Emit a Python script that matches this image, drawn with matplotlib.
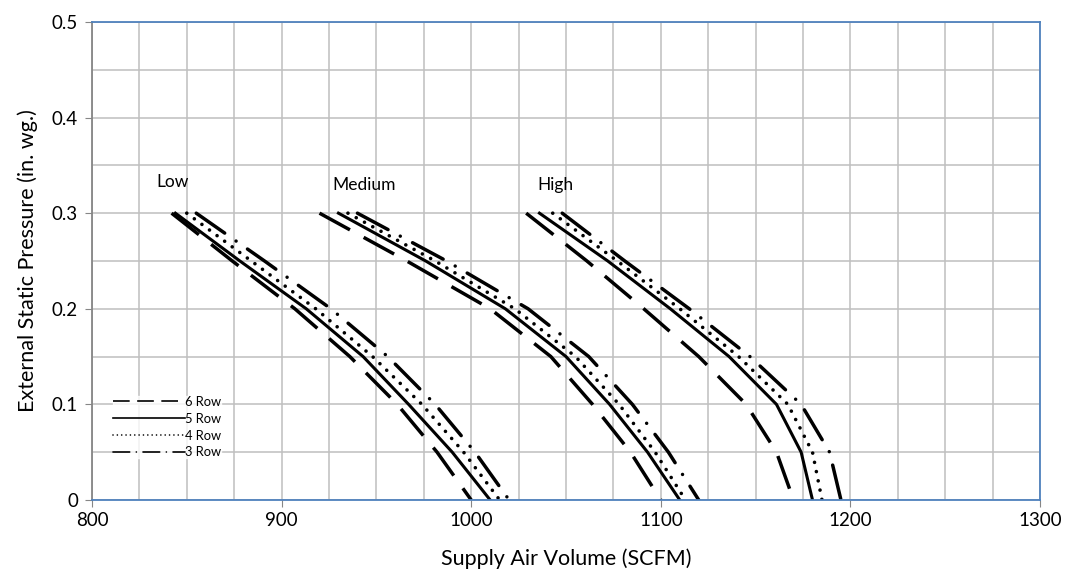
import matplotlib

matplotlib.use("Agg")
import matplotlib.pyplot as plt

# pressure steps shared by every curve (in. wg.)
pressure = [0.30, 0.25, 0.20, 0.15, 0.10, 0.05, 0.00]

# supply air volume (SCFM) at each pressure step, per speed and coil rows
low_6row = [842, 874, 907, 936, 961, 982, 1000]
low_5row = [844, 878, 913, 943, 967, 990, 1010]
low_4row = [850, 884, 918, 948, 974, 996, 1015]
low_3row = [855, 891, 926, 956, 981, 1002, 1020]

medium_6row = [920, 966, 1010, 1042, 1064, 1084, 1100]
medium_5row = [930, 976, 1018, 1050, 1073, 1093, 1110]
medium_4row = [935, 981, 1023, 1055, 1078, 1097, 1113]
medium_3row = [940, 987, 1030, 1062, 1085, 1104, 1120]

high_6row = [1029, 1061, 1091, 1120, 1145, 1161, 1170]
high_5row = [1036, 1072, 1105, 1136, 1161, 1174, 1180]
high_4row = [1043, 1077, 1110, 1141, 1167, 1180, 1185]
high_3row = [1048, 1081, 1115, 1147, 1174, 1189, 1195]

speed_labels = ["Low", "Medium", "High"]
speed_label_pos = [(834, 0.333), (927, 0.329), (1035, 0.329)]
row_labels = ["6 Row", "5 Row", "4 Row", "3 Row"]

plt.rcParams["font.family"] = ["Lato", "DejaVu Sans"]

STYLES = {
    "6 Row": dict(linestyle=(0, (10, 4.5)), linewidth=2.5, dash_capstyle="butt"),
    "5 Row": dict(linestyle="-", linewidth=2.2),
    "4 Row": dict(linestyle=(0, (0.01, 2.6)), linewidth=2.6, dash_capstyle="round"),
    "3 Row": dict(linestyle=(0, (10, 4, 0.01, 4)), linewidth=2.5, dash_capstyle="round"),
}

groups = [
    [low_6row, low_5row, low_4row, low_3row],
    [medium_6row, medium_5row, medium_4row, medium_3row],
    [high_6row, high_5row, high_4row, high_3row],
]

fig = plt.figure(figsize=(10.78, 5.78), dpi=100)
ax = fig.add_axes([0.0853, 0.135, 0.8795, 0.827])

for g, curves in enumerate(groups):
    for label, volume in zip(row_labels, curves):
        ax.plot(volume, pressure, color="black",
                label=label if g == 0 else None, **STYLES[label])

for text, (x, y) in zip(speed_labels, speed_label_pos):
    ax.text(x, y, text, fontsize=12.5, ha="left", va="center")

ax.set_xlim(800, 1300)
ax.set_ylim(0, 0.5)
ax.set_xticks(range(800, 1301, 100))
ax.set_xticks(range(800, 1301, 25), minor=True)
ax.set_yticks([0, 0.1, 0.2, 0.3, 0.4, 0.5])
ax.set_yticklabels(["0", "0.1", "0.2", "0.3", "0.4", "0.5"])
ax.set_yticks([i * 0.05 for i in range(11)], minor=True)
ax.grid(which="both", color="#bfbfbf", linewidth=1.1)
ax.set_axisbelow(True)
ax.tick_params(which="major", length=5, color="#868686", labelsize=13.5)
ax.tick_params(axis="y", pad=5)
ax.tick_params(which="minor", length=0)

for side in ("top", "right", "bottom"):
    ax.spines[side].set_color("#4f81bd")
    ax.spines[side].set_linewidth(1.3)
ax.spines["left"].set_color("#868686")
ax.spines["left"].set_linewidth(1.3)

ax.set_xlabel("Supply Air Volume (SCFM)", fontsize=15.5, labelpad=14)
ax.set_ylabel("External Static Pressure (in. wg.)", fontsize=15.5, labelpad=10)

leg = ax.legend(loc="upper left", bbox_to_anchor=(0.022, 0.218), frameon=True,
                fontsize=9.3, handlelength=5.6, handletextpad=0.0,
                labelspacing=0.38, borderaxespad=0, borderpad=0)
leg.get_frame().set_facecolor("white")
leg.get_frame().set_edgecolor("white")
for handle in leg.get_lines():
    handle.set_linewidth(1.2)

fig.savefig("out.png", dpi=100)
